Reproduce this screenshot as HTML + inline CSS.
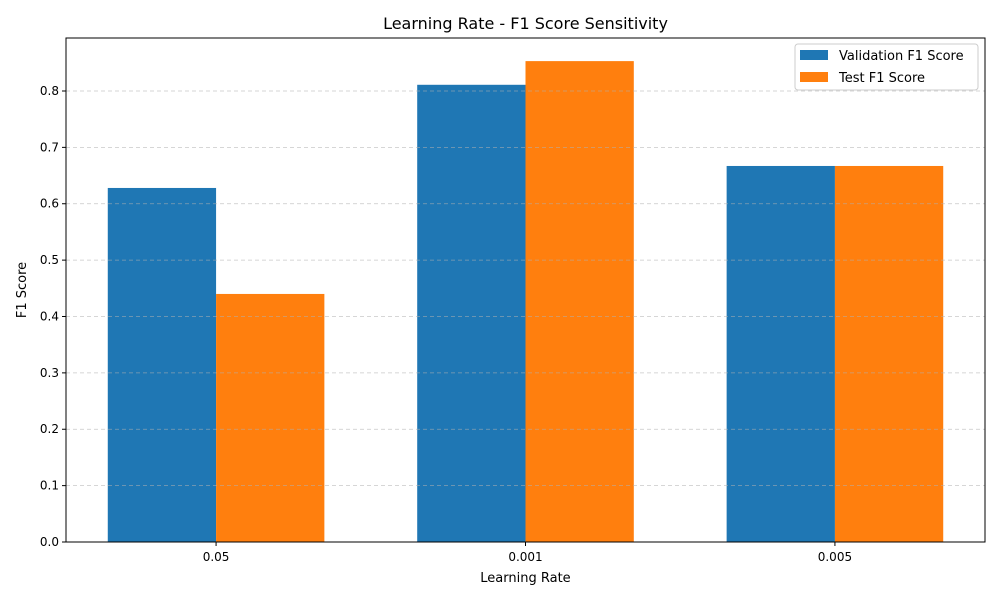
<!DOCTYPE html>
<html><head><meta charset="utf-8"><style>
body{margin:0;background:#fff;font-family:"Liberation Sans","DejaVu Sans",sans-serif;}
svg text{font-family:"DejaVu Sans","Liberation Sans",sans-serif;}
</style></head><body>
<svg id="chart" width="1000" height="600" xmlns="http://www.w3.org/2000/svg">
<rect width="1000" height="600" fill="#fff"/>
<text x="525.5" y="29" text-anchor="middle" font-size="16" fill="#000">Learning Rate - F1 Score Sensitivity</text>
<g id="bars"></g><g id="grid"></g><g id="axes"></g>
<text x="525.5" y="582" text-anchor="middle" font-size="13">Learning Rate</text>
<text transform="translate(26,290) rotate(-90)" text-anchor="middle" font-size="13">F1 Score</text>
<g>
<rect x="795" y="44" width="183" height="46" fill="#fff" fill-opacity="0.8" stroke="#ccc" rx="3"/>
<rect x="800" y="50" width="28" height="10" fill="#1f77b4"/>
<text x="839" y="60" font-size="13">Validation F1 Score</text>
<rect x="800" y="72" width="28" height="10" fill="#ff7f0e"/>
<text x="839" y="82" font-size="13">Test F1 Score</text>
</g>
</svg>
<script>
const categories = ["0.05","0.001","0.005"];
const validationF1 = [0.628,0.811,0.667];
const testF1 = [0.440,0.853,0.667];
const yTicks = [0,0.1,0.2,0.3,0.4,0.5,0.6,0.7,0.8];
const ns="http://www.w3.org/2000/svg";
const L=66,R=985,T=38,B=542,yMax=0.894,xMin=-0.485,xMax=2.485,bw=0.35;
const y=v=>B-(v/yMax)*(B-T);
const x=v=>L+(v-xMin)/(xMax-xMin)*(R-L);
function mk(tag,attrs,parent){const e=document.createElementNS(ns,tag);for(const k in attrs)e.setAttribute(k,attrs[k]);parent.appendChild(e);return e;}
const grid=document.getElementById('grid'),bars=document.getElementById('bars'),axes=document.getElementById('axes');
yTicks.forEach(t=>{
  if(t>0){const g=mk('line',{x1:L,x2:R,y1:y(t),y2:y(t),stroke:'#b0b0b0','stroke-opacity':0.7,'stroke-dasharray':'4,3','stroke-width':0.8},grid);
  
  }
  const tk=mk('line',{x1:L-4,x2:L,y1:y(t),y2:y(t),stroke:'#000'},axes);
  
  
  const tx=mk('text',{x:L-7,y:y(t)+4,'text-anchor':'end','font-size':12},axes);tx.textContent=t.toFixed(1);
  
  
});
categories.forEach((c,i)=>{
  const v=mk('rect',{x:x(i-bw),y:y(validationF1[i]),width:x(i)-x(i-bw),height:B-y(validationF1[i]),fill:'#1f77b4'},bars);
  
  
  const t=mk('rect',{x:x(i),y:y(testF1[i]),width:x(i+bw)-x(i),height:B-y(testF1[i]),fill:'#ff7f0e'},bars);
  
  
  const tk=mk('line',{x1:x(i),x2:x(i),y1:B,y2:B+4,stroke:'#000'},axes);
  
  
  const tx=mk('text',{x:x(i),y:B+19,'text-anchor':'middle','font-size':12},axes);tx.textContent=c;
  
  
});
const fr=mk('rect',{x:L,y:T,width:R-L,height:B-T,fill:'none',stroke:'#000','stroke-width':1},axes);


</script>
</body></html>
